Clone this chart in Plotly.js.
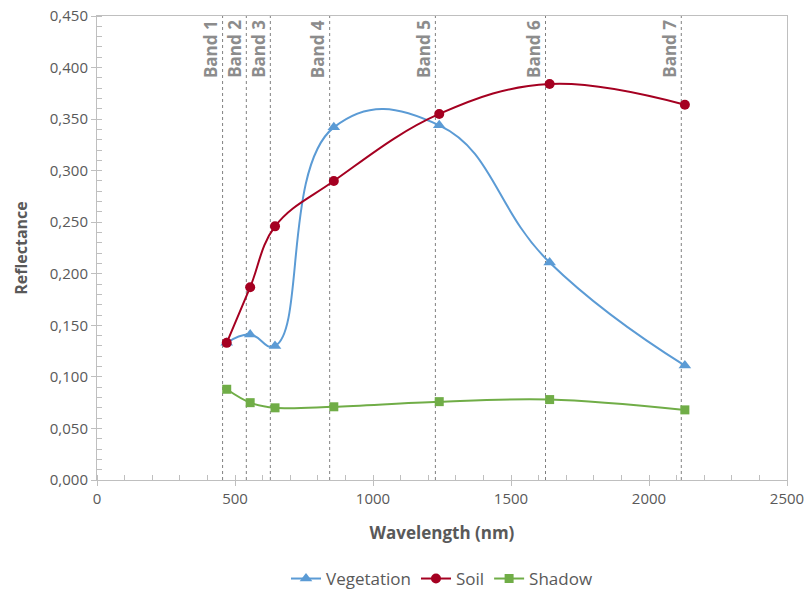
<!DOCTYPE html>
<html>
<head>
<meta charset="utf-8">
<script src="https://cdn.plot.ly/plotly-3.0.1.min.js"></script>
<style>html,body{margin:0;padding:0;background:#fff}#chart{width:806px;height:592px}</style>
</head>
<body>
<div id="chart"></div>
<script>
const wavelength = [470, 555, 645, 858, 1240, 1640, 2130];
const vegetation = [0.133, 0.141, 0.130, 0.342, 0.344, 0.211, 0.111];
const soil = [0.133, 0.187, 0.246, 0.290, 0.355, 0.384, 0.364];
const shadow = [0.088, 0.075, 0.070, 0.071, 0.076, 0.078, 0.068];
const bandPos = [455, 541, 628, 843, 1226, 1625, 2117];
const bandLabels = ["Band 1", "Band 2", "Band 3", "Band 4", "Band 5", "Band 6", "Band 7"];

const font = "'Open Sans', 'Liberation Sans', sans-serif";
const txt = '#595959';

const traces = [
  {x: wavelength, y: vegetation, name: 'Vegetation', mode: 'lines+markers',
   line: {color: '#5b9bd5', width: 2, shape: 'spline', smoothing: 1.3},
   marker: {symbol: 'triangle-up', size: 11, color: '#5b9bd5'}},
  {x: wavelength, y: soil, name: 'Soil', mode: 'lines+markers',
   line: {color: '#a50021', width: 2, shape: 'spline', smoothing: 1.1},
   marker: {symbol: 'circle', size: 10, color: '#a50021'}},
  {x: wavelength, y: shadow, name: 'Shadow', mode: 'lines+markers',
   line: {color: '#70ad47', width: 2, shape: 'spline', smoothing: 1},
   marker: {symbol: 'square', size: 9, color: '#70ad47'}}
];

const shapes = bandPos.map(b => ({type: 'line', xref: 'x', yref: 'paper', x0: b, x1: b, y0: 0, y1: 1,
  layer: 'below', line: {color: '#808080', width: 1, dash: 'dot'}}));

const annotations = bandPos.map((b, i) => ({x: b, y: 1, xref: 'x', yref: 'paper', text: bandLabels[i],
  textangle: -90, showarrow: false, xanchor: 'right', yanchor: 'top', xshift: 1, yshift: -2,
  font: {family: font, size: 17, color: '#8c8c8c', weight: 'bold'}}));

const layout = {
  width: 806, height: 592,
  margin: {l: 97, r: 19, t: 16, b: 112},
  paper_bgcolor: '#fff', plot_bgcolor: '#fff',
  separators: ', ',
  font: {family: font, color: txt, size: 15},
  showlegend: true,
  legend: {orientation: 'h', x: 0.5, xanchor: 'center', xref: 'paper', yref: 'container',
    y: 0.022, yanchor: 'middle', font: {size: 17, color: txt}},
  xaxis: {range: [0, 2500], dtick: 500, tickformat: 'd', showgrid: false, zeroline: false,
    showline: true, linecolor: '#bfbfbf', linewidth: 1, mirror: true,
    ticks: 'outside', ticklen: 5, tickcolor: '#bfbfbf',
    minor: {ticks: 'inside', dtick: 100, ticklen: 5, tickcolor: '#bfbfbf'},
    tickfont: {size: 15, color: txt},
    title: {text: 'Wavelength (nm)', font: {size: 17, color: txt, weight: 'bold'}, standoff: 20}},
  yaxis: {range: [0, 0.45], dtick: 0.05, tickformat: '.3f', showgrid: false, zeroline: false,
    showline: true, linecolor: '#bfbfbf', linewidth: 1, mirror: true,
    ticks: 'outside', ticklen: 5, tickcolor: '#bfbfbf',
    minor: {ticks: 'inside', dtick: 0.01, ticklen: 5, tickcolor: '#bfbfbf'},
    tickfont: {size: 15, color: txt},
    title: {text: 'Reflectance', font: {size: 16, color: txt, weight: 'bold'}, standoff: 18}},
  shapes: shapes,
  annotations: annotations
};

Plotly.newPlot('chart', traces, layout, {displayModeBar: false, staticPlot: true});
</script>
</body>
</html>
